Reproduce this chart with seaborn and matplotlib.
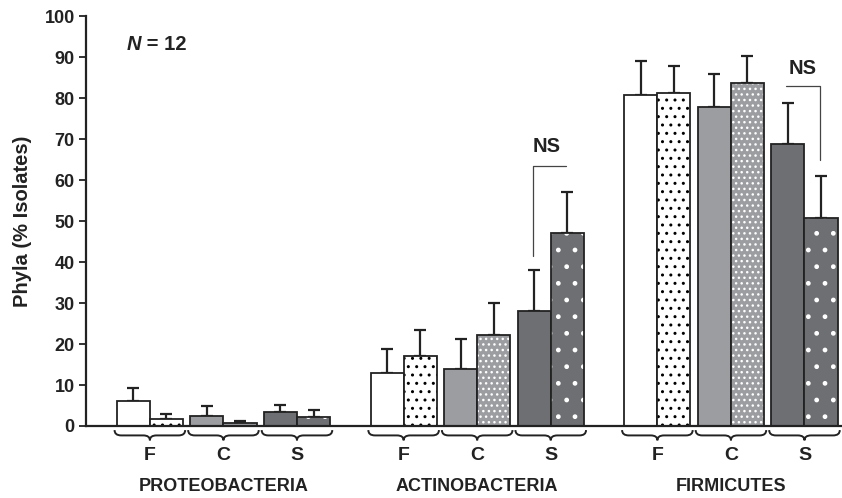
import numpy as np
import matplotlib
matplotlib.use("Agg")
import matplotlib.pyplot as plt
from matplotlib.path import Path
from matplotlib.patches import PathPatch
import seaborn as sns

# data
phyla = ["PROTEOBACTERIA", "ACTINOBACTERIA", "FIRMICUTES"]
sites = ["F", "C", "S"]
# first bar of each pair (plain) and second (dotted), in phylum/site order
plain_vals = [6.2, 2.5, 3.3, 13.0, 14.0, 28.0, 80.8, 77.8, 68.9]
plain_err = [3.0, 2.3, 1.9, 5.7, 7.3, 10.0, 8.2, 8.2, 9.8]
dotted_vals = [1.8, 0.8, 2.2, 17.0, 22.2, 47.0, 81.3, 83.6, 50.7]
dotted_err = [1.1, 0.5, 1.6, 6.5, 7.8, 10.2, 6.5, 6.7, 10.3]
yticks = list(range(0, 101, 10))

sns.set_style("ticks")
plt.rcParams["font.family"] = ["Liberation Sans", "DejaVu Sans"]
plt.rcParams["hatch.linewidth"] = 1.0

ink = "#222222"
site_colors = {"F": "white", "C": "#9c9da1", "S": "#6e6f72"}
dot_colors = {"F": "black", "C": "white", "S": "white"}
dot_hatch = {"F": "..", "C": "...", "S": "."}

fig = plt.figure(figsize=(8.42, 4.98), dpi=100)
ax = fig.add_axes([0.102, 0.1446, 0.898, 0.823])

w = 0.45
centers = []
for p in range(len(phyla)):
    for s in range(len(sites)):
        centers.append(p * 3.45 + s)
centers = np.array(centers)

for i, c in enumerate(centers):
    site = sites[i % 3]
    # plain bar
    ax.bar(c - w / 2, plain_vals[i], width=w, color=site_colors[site],
           edgecolor=ink, linewidth=1.3, zorder=2)
    # dotted bar: hatch drawn in dot colour, then outline on top
    ax.bar(c + w / 2, dotted_vals[i], width=w, color=site_colors[site],
           edgecolor=dot_colors[site], hatch=dot_hatch[site], linewidth=0, zorder=2)
    ax.bar(c + w / 2, dotted_vals[i], width=w, fill=False,
           edgecolor=ink, linewidth=1.3, zorder=3)

ax.errorbar(centers - w / 2, plain_vals, yerr=[np.zeros(9), plain_err], fmt="none",
            ecolor=ink, elinewidth=1.6, capsize=4.5, capthick=1.6, zorder=1)
ax.errorbar(centers + w / 2, dotted_vals, yerr=[np.zeros(9), dotted_err], fmt="none",
            ecolor=ink, elinewidth=1.6, capsize=4.5, capthick=1.6, zorder=1)

ax.set_xlim(-0.87, 9.41)
ax.set_ylim(0, 100)
ax.set_yticks(yticks)
ax.set_xticks([])
ax.tick_params(axis="y", length=5, width=1.3, labelsize=13, color=ink, pad=3)
for lab in ax.get_yticklabels():
    lab.set_fontweight("bold")
    lab.set_color(ink)
sns.despine(ax=ax)
for side in ["left", "bottom"]:
    ax.spines[side].set_linewidth(1.6)
    ax.spines[side].set_color(ink)
ax.set_ylabel("Phyla (% Isolates)", fontsize=14.5, fontweight="bold", color=ink, labelpad=9)

# braces, site letters and phylum names below the axis
tr = ax.get_xaxis_transform()


def brace(x0, x1, yt=-0.010, ym=-0.023, yb=-0.035, d=0.09):
    xc = (x0 + x1) / 2
    verts = [(x0, yt), (x0, ym), (x0 + d, ym), (xc - d, ym), (xc, ym), (xc, yb),
             (xc, ym), (xc + d, ym), (x1 - d, ym), (x1, ym), (x1, yt)]
    codes = [Path.MOVETO, Path.CURVE3, Path.CURVE3, Path.LINETO, Path.CURVE3, Path.CURVE3,
             Path.CURVE3, Path.CURVE3, Path.LINETO, Path.CURVE3, Path.CURVE3]
    ax.add_patch(PathPatch(Path(verts, codes), transform=tr, fill=False,
                           edgecolor=ink, linewidth=1.4, clip_on=False))


for i, c in enumerate(centers):
    brace(c - 0.48, c + 0.48)
    ax.text(c, -0.073, sites[i % 3], transform=tr, ha="center", va="center",
            fontsize=14, fontweight="bold", color=ink)
for p, name in enumerate(phyla):
    ax.text(centers[p * 3 + 1], -0.1476, name, transform=tr, ha="center", va="center",
            fontsize=13, fontweight="bold", color=ink)

# N = 12
ax.text(0.054, 0.932, "N", transform=ax.transAxes, ha="left", va="center",
        fontsize=14.5, fontweight="bold", fontstyle="italic", color=ink)
ax.text(0.0734, 0.932, " = 12", transform=ax.transAxes, ha="left", va="center",
        fontsize=14.5, fontweight="bold", color=ink)

# NS brackets
a = centers[5]
ax.plot([a - w / 2 - 0.02, a - w / 2 - 0.02, a + w / 2 - 0.02], [41.5, 63.5, 63.5],
        color="#444444", linewidth=0.9, zorder=4)
ax.text(a - 0.05, 68.2, "NS", ha="center", va="center", fontsize=14.5, fontweight="bold", color=ink)
b = centers[8]
ax.plot([b - w / 2 - 0.02, b + w / 2 - 0.02, b + w / 2 - 0.02], [82.9, 82.9, 64.9],
        color="#444444", linewidth=0.9, zorder=4)
ax.text(b - 0.03, 87.3, "NS", ha="center", va="center", fontsize=14.5, fontweight="bold", color=ink)

fig.savefig("out.png", dpi=100)
